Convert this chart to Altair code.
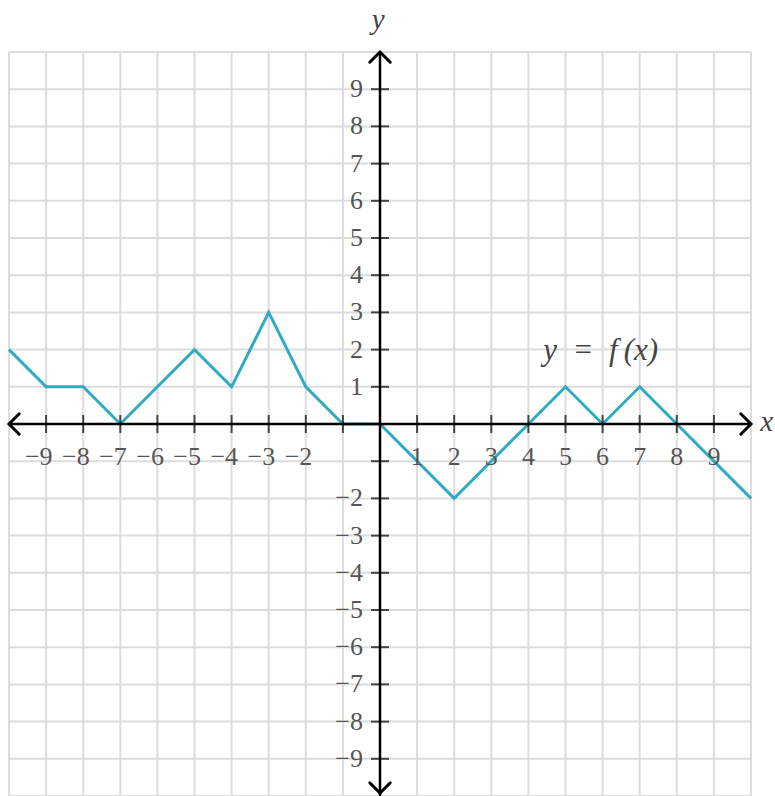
import altair as alt
import pandas as pd

# Vertices of the piecewise-linear function y = f(x)
fx = [-10, -9, -8, -7, -6, -5, -4, -3, -2, -1, 0, 2, 4, 5, 6, 7, 8, 10]
fy = [2, 1, 1, 0, 1, 2, 1, 3, 1, 0, 0, -2, 0, 1, 0, 1, 0, -2]

# Grid lines, tick positions and tick labels
grid_vals = [-10, -9, -8, -7, -6, -5, -4, -3, -2, -1, 0, 1, 2, 3, 4, 5, 6, 7, 8, 9, 10]
tick_vals = [-9, -8, -7, -6, -5, -4, -3, -2, -1, 1, 2, 3, 4, 5, 6, 7, 8, 9]
x_neg_labels = [-9, -8, -7, -6, -5, -4, -3, -2]
x_pos_labels = [1, 2, 3, 4, 5, 6, 7, 8, 9]
y_pos_labels = [1, 2, 3, 4, 5, 6, 7, 8, 9]
y_neg_labels = [-2, -3, -4, -5, -6, -7, -8, -9]

LINE_COLOR = "#30aac4"
GRID_COLOR = "#dcdcdc"
LABEL_COLOR = "#555555"
FONT = "Liberation Serif, DejaVu Serif, serif"

xs = alt.Scale(domain=[-10, 10], nice=False, zero=False)
ys = alt.Scale(domain=[-10, 10], nice=False, zero=False)


def X(field="x"):
    return alt.X(f"{field}:Q", scale=xs, axis=None)


def Y(field="y"):
    return alt.Y(f"{field}:Q", scale=ys, axis=None)


def lab(v):
    return ("\u2212" + str(-v)) if v < 0 else str(v)


grid_df = pd.DataFrame({"v": grid_vals})
vgrid = alt.Chart(grid_df).mark_rule(color=GRID_COLOR, strokeWidth=2).encode(x=X("v"))
hgrid = alt.Chart(grid_df).mark_rule(color=GRID_COLOR, strokeWidth=2).encode(y=Y("v"))

# Coordinate axes
x_axis = alt.Chart(pd.DataFrame({"x": [-10], "x2": [10], "y": [0]})).mark_rule(
    color="black", strokeWidth=2.5
).encode(x=X(), x2="x2:Q", y=Y())
y_axis = alt.Chart(pd.DataFrame({"x": [0], "y": [-10], "y2": [10]})).mark_rule(
    color="black", strokeWidth=2.5
).encode(x=X(), y=Y(), y2="y2:Q")

# Arrowheads at the ends of both axes
arrows_df = pd.DataFrame(
    {"x": [10, -10, 0, 0], "y": [0, 0, 10, -9.92], "angle": [0, 180, 270, 90]}
)
arrows = alt.Chart(arrows_df).mark_point(
    shape="M-1,-1L0,0L-1,1", size=420, filled=False, stroke="black", strokeWidth=3,
    strokeCap="round", strokeJoin="miter", opacity=1
).encode(x=X(), y=Y(), angle=alt.Angle("angle:Q", scale=None))

# Tick marks
xt = alt.Chart(pd.DataFrame({"x": tick_vals, "y": [0] * len(tick_vals)})).mark_tick(
    orient="vertical", size=18, thickness=2, color="black"
).encode(x=X(), y=Y())
yt = alt.Chart(pd.DataFrame({"x": [0] * len(tick_vals), "y": tick_vals})).mark_tick(
    orient="horizontal", size=18, thickness=2, color="black"
).encode(x=X(), y=Y())

# Tick labels
text_style = dict(font=FONT, fontSize=26, color=LABEL_COLOR, baseline="middle")
xl_pos = alt.Chart(pd.DataFrame({"x": x_pos_labels, "y": [0] * len(x_pos_labels),
                                 "t": [lab(v) for v in x_pos_labels]})).mark_text(
    align="center", dy=33, **text_style
).encode(x=X(), y=Y(), text="t:N")
xl_neg = alt.Chart(pd.DataFrame({"x": x_neg_labels, "y": [0] * len(x_neg_labels),
                                 "t": [lab(v) for v in x_neg_labels]})).mark_text(
    align="right", dx=6.5, dy=33, **text_style
).encode(x=X(), y=Y(), text="t:N")
y_labels = y_pos_labels + y_neg_labels
yl = alt.Chart(pd.DataFrame({"x": [0] * len(y_labels), "y": y_labels,
                             "t": [lab(v) for v in y_labels]})).mark_text(
    align="right", dx=-17, **text_style
).encode(x=X(), y=Y(), text="t:N")

# The function graph
curve = alt.Chart(pd.DataFrame({"x": fx, "y": fy})).mark_line(
    color=LINE_COLOR, strokeWidth=3, strokeJoin="miter"
).encode(x=X(), y=Y())

# Function label and axis names
italic = dict(font=FONT, fontStyle="italic", color="#444444", baseline="middle", align="center")
flabel = alt.Chart(pd.DataFrame({"x": [5.95], "y": [1.95],
                                 "t": ["y\u2002=\u2002f\u2009(x)"]})).mark_text(
    fontSize=31, **italic
).encode(x=X(), y=Y(), text="t:N")
ytitle = alt.Chart(pd.DataFrame({"x": [-0.05], "y": [10.85], "t": ["y"]})).mark_text(
    fontSize=29, **italic
).encode(x=X(), y=Y(), text="t:N")
xtitle = alt.Chart(pd.DataFrame({"x": [10.42], "y": [0.05], "t": ["x"]})).mark_text(
    fontSize=29, **italic
).encode(x=X(), y=Y(), text="t:N")

chart = alt.layer(
    vgrid, hgrid, curve, x_axis, y_axis, arrows, xt, yt, xl_pos, xl_neg, yl,
    flabel, ytitle, xtitle
).properties(
    width=742, height=744,
    padding={"left": 9, "top": 52, "right": 24, "bottom": 0},
    autosize=alt.AutoSizeParams(type="none"),
    background="white",
).configure_view(stroke=None)

chart.save("out.html", embed_options={"renderer": "svg", "actions": False})
